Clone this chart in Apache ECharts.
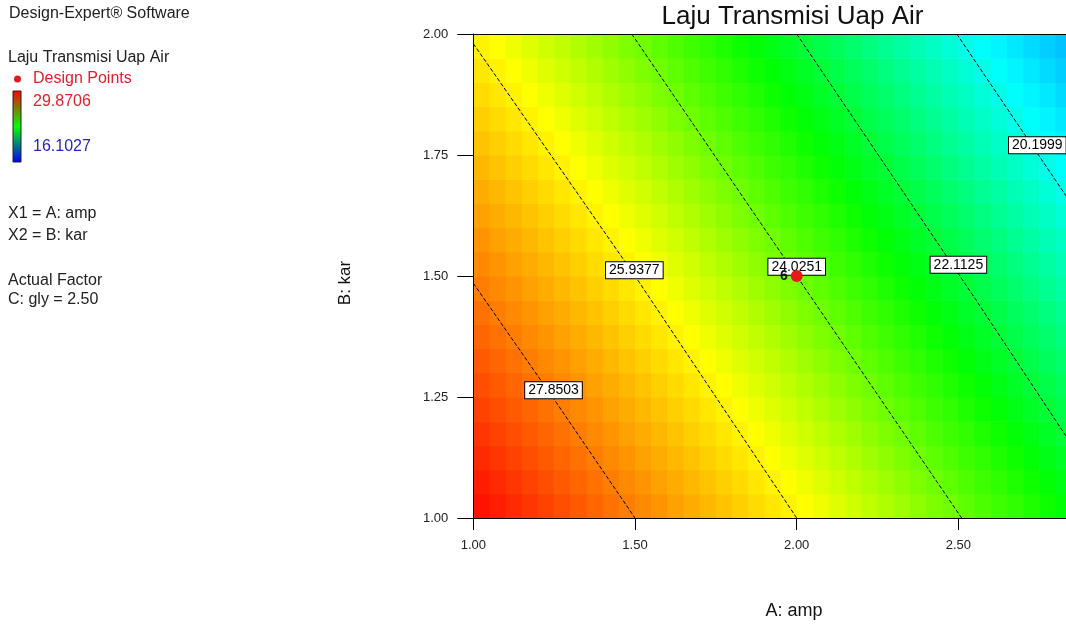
<!DOCTYPE html>
<html>
<head>
<meta charset="utf-8">
<script src="https://cdn.jsdelivr.net/npm/echarts@6/dist/echarts.min.js"></script>
<style>
html,body{margin:0;padding:0;background:#fff;}
#c{width:1066px;height:626px;}
</style>
</head>
<body>
<div id="c"></div>
<script>
// ---------- data ----------
// cell centres (A: amp, B: kar)
const aCenters = [1.025,1.075,1.125,1.175,1.225,1.275,1.325,1.375,1.425,1.475,1.525,1.575,1.625,1.675,1.725,1.775,1.825,1.875,1.925,1.975,
                  2.025,2.075,2.125,2.175,2.225,2.275,2.325,2.375,2.425,2.475,2.525,2.575,2.625,2.675,2.725,2.775,2.825,2.875,2.925,2.975];
const bCenters = [1.025,1.075,1.125,1.175,1.225,1.275,1.325,1.375,1.425,1.475,1.525,1.575,1.625,1.675,1.725,1.775,1.825,1.875,1.925,1.975];

// estimated response (Laju Transmisi Uap Air), one array per B row, columns follow aCenters
const r00 = [29.57,29.38,29.19,29.00,28.80,28.61,28.42,28.23,28.04,27.85,27.66,27.47,27.27,27.08,26.89,26.70,26.51,26.32,26.13,25.94,25.74,25.55,25.36,25.17,24.98,24.79,24.60,24.41,24.21,24.03,23.83,23.64,23.45,23.26,23.07,22.88,22.68,22.49,22.30,22.11];
const r01 = [29.38,29.19,29.00,28.80,28.61,28.42,28.23,28.04,27.85,27.66,27.47,27.27,27.08,26.89,26.70,26.51,26.32,26.13,25.94,25.74,25.55,25.36,25.17,24.98,24.79,24.60,24.41,24.21,24.03,23.83,23.64,23.45,23.26,23.07,22.88,22.68,22.49,22.30,22.11,21.92];
const r02 = [29.19,29.00,28.80,28.61,28.42,28.23,28.04,27.85,27.66,27.47,27.27,27.08,26.89,26.70,26.51,26.32,26.13,25.94,25.74,25.55,25.36,25.17,24.98,24.79,24.60,24.41,24.21,24.03,23.83,23.64,23.45,23.26,23.07,22.88,22.68,22.49,22.30,22.11,21.92,21.73];
const r03 = [29.00,28.80,28.61,28.42,28.23,28.04,27.85,27.66,27.47,27.27,27.08,26.89,26.70,26.51,26.32,26.13,25.94,25.74,25.55,25.36,25.17,24.98,24.79,24.60,24.41,24.21,24.03,23.83,23.64,23.45,23.26,23.07,22.88,22.68,22.49,22.30,22.11,21.92,21.73,21.54];
const r04 = [28.80,28.61,28.42,28.23,28.04,27.85,27.66,27.47,27.27,27.08,26.89,26.70,26.51,26.32,26.13,25.94,25.74,25.55,25.36,25.17,24.98,24.79,24.60,24.41,24.21,24.03,23.83,23.64,23.45,23.26,23.07,22.88,22.68,22.49,22.30,22.11,21.92,21.73,21.54,21.35];
const r05 = [28.61,28.42,28.23,28.04,27.85,27.66,27.47,27.27,27.08,26.89,26.70,26.51,26.32,26.13,25.94,25.74,25.55,25.36,25.17,24.98,24.79,24.60,24.41,24.21,24.03,23.83,23.64,23.45,23.26,23.07,22.88,22.68,22.49,22.30,22.11,21.92,21.73,21.54,21.35,21.15];
const r06 = [28.42,28.23,28.04,27.85,27.66,27.47,27.27,27.08,26.89,26.70,26.51,26.32,26.13,25.94,25.74,25.55,25.36,25.17,24.98,24.79,24.60,24.41,24.21,24.03,23.83,23.64,23.45,23.26,23.07,22.88,22.68,22.49,22.30,22.11,21.92,21.73,21.54,21.35,21.15,20.96];
const r07 = [28.23,28.04,27.85,27.66,27.47,27.27,27.08,26.89,26.70,26.51,26.32,26.13,25.94,25.74,25.55,25.36,25.17,24.98,24.79,24.60,24.41,24.21,24.03,23.83,23.64,23.45,23.26,23.07,22.88,22.68,22.49,22.30,22.11,21.92,21.73,21.54,21.35,21.15,20.96,20.77];
const r08 = [28.04,27.85,27.66,27.47,27.27,27.08,26.89,26.70,26.51,26.32,26.13,25.94,25.74,25.55,25.36,25.17,24.98,24.79,24.60,24.41,24.21,24.03,23.83,23.64,23.45,23.26,23.07,22.88,22.68,22.49,22.30,22.11,21.92,21.73,21.54,21.35,21.15,20.96,20.77,20.58];
const r09 = [27.85,27.66,27.47,27.27,27.08,26.89,26.70,26.51,26.32,26.13,25.94,25.74,25.55,25.36,25.17,24.98,24.79,24.60,24.41,24.21,24.03,23.83,23.64,23.45,23.26,23.07,22.88,22.68,22.49,22.30,22.11,21.92,21.73,21.54,21.35,21.15,20.96,20.77,20.58,20.39];
const r10 = [27.66,27.47,27.27,27.08,26.89,26.70,26.51,26.32,26.13,25.94,25.74,25.55,25.36,25.17,24.98,24.79,24.60,24.41,24.21,24.03,23.83,23.64,23.45,23.26,23.07,22.88,22.68,22.49,22.30,22.11,21.92,21.73,21.54,21.35,21.15,20.96,20.77,20.58,20.39,20.20];
const r11 = [27.47,27.27,27.08,26.89,26.70,26.51,26.32,26.13,25.94,25.74,25.55,25.36,25.17,24.98,24.79,24.60,24.41,24.21,24.03,23.83,23.64,23.45,23.26,23.07,22.88,22.68,22.49,22.30,22.11,21.92,21.73,21.54,21.35,21.15,20.96,20.77,20.58,20.39,20.20,20.01];
const r12 = [27.27,27.08,26.89,26.70,26.51,26.32,26.13,25.94,25.74,25.55,25.36,25.17,24.98,24.79,24.60,24.41,24.21,24.03,23.83,23.64,23.45,23.26,23.07,22.88,22.68,22.49,22.30,22.11,21.92,21.73,21.54,21.35,21.15,20.96,20.77,20.58,20.39,20.20,20.01,19.82];
const r13 = [27.08,26.89,26.70,26.51,26.32,26.13,25.94,25.74,25.55,25.36,25.17,24.98,24.79,24.60,24.41,24.21,24.03,23.83,23.64,23.45,23.26,23.07,22.88,22.68,22.49,22.30,22.11,21.92,21.73,21.54,21.35,21.15,20.96,20.77,20.58,20.39,20.20,20.01,19.82,19.62];
const r14 = [26.89,26.70,26.51,26.32,26.13,25.94,25.74,25.55,25.36,25.17,24.98,24.79,24.60,24.41,24.21,24.03,23.83,23.64,23.45,23.26,23.07,22.88,22.68,22.49,22.30,22.11,21.92,21.73,21.54,21.35,21.15,20.96,20.77,20.58,20.39,20.20,20.01,19.82,19.62,19.43];
const r15 = [26.70,26.51,26.32,26.13,25.94,25.74,25.55,25.36,25.17,24.98,24.79,24.60,24.41,24.21,24.03,23.83,23.64,23.45,23.26,23.07,22.88,22.68,22.49,22.30,22.11,21.92,21.73,21.54,21.35,21.15,20.96,20.77,20.58,20.39,20.20,20.01,19.82,19.62,19.43,19.24];
const r16 = [26.51,26.32,26.13,25.94,25.74,25.55,25.36,25.17,24.98,24.79,24.60,24.41,24.21,24.03,23.83,23.64,23.45,23.26,23.07,22.88,22.68,22.49,22.30,22.11,21.92,21.73,21.54,21.35,21.15,20.96,20.77,20.58,20.39,20.20,20.01,19.82,19.62,19.43,19.24,19.05];
const r17 = [26.32,26.13,25.94,25.74,25.55,25.36,25.17,24.98,24.79,24.60,24.41,24.21,24.03,23.83,23.64,23.45,23.26,23.07,22.88,22.68,22.49,22.30,22.11,21.92,21.73,21.54,21.35,21.15,20.96,20.77,20.58,20.39,20.20,20.01,19.82,19.62,19.43,19.24,19.05,18.86];
const r18 = [26.13,25.94,25.74,25.55,25.36,25.17,24.98,24.79,24.60,24.41,24.21,24.03,23.83,23.64,23.45,23.26,23.07,22.88,22.68,22.49,22.30,22.11,21.92,21.73,21.54,21.35,21.15,20.96,20.77,20.58,20.39,20.20,20.01,19.82,19.62,19.43,19.24,19.05,18.86,18.67];
const r19 = [25.94,25.74,25.55,25.36,25.17,24.98,24.79,24.60,24.41,24.21,24.03,23.83,23.64,23.45,23.26,23.07,22.88,22.68,22.49,22.30,22.11,21.92,21.73,21.54,21.35,21.15,20.96,20.77,20.58,20.39,20.20,20.01,19.82,19.62,19.43,19.24,19.05,18.86,18.67,18.48];
const cellRows = [r00,r01,r02,r03,r04,r05,r06,r07,r08,r09,r10,r11,r12,r13,r14,r15,r16,r17,r18,r19];

const colorRange = [16.1027, 29.8706];

const xRange = [1, 3, 0.5];
const yRange = [1, 2, 0.25];

// contour lines (A, B)
const contourLevels = ['27.8503','25.9377','24.0251','22.1125','20.1999'];
const contour1 = [[1.0,1.485],[1.25,1.245],[1.5,1.0]];
const contour2 = [[1.0,1.98],[1.5,1.5],[1.55,1.45],[2.0,1.0]];
const contour3 = [[1.49,2.0],[2.0,1.5],[2.51,1.0]];
const contour4 = [[2.0,2.0],[2.555,1.45],[3.0,1.0]];
const contour5 = [[2.495,2.0],[2.778,1.72],[3.5,1.0]];
const contourLines = [contour1,contour2,contour3,contour4,contour5];
const contourLabelPos = [[1.248,1.264],[1.498,1.512],[2.0,1.519],[2.5,1.523],[2.744,1.77]];

const designPoints = [[2.0,1.5]];
const designCounts = ['6'];

const leftTexts = ['Design-Expert\u00ae Software','Laju Transmisi Uap Air','Design Points','X1 = A: amp','X2 = B: kar','Actual Factor','C: gly = 2.50'];
const titleText = 'Laju Transmisi Uap Air';
const xName = 'A: amp';
const yName = 'B: kar';

// ---------- chart ----------
const FONT = 'Arial, "Liberation Sans", sans-serif';
const chart = echarts.init(document.getElementById('c'), null, {renderer:'canvas', width:1066, height:626});

// colour ramp (blue - cyan - green - yellow - red), as in the reference
const rampStops = [[0,[0,0,255]],[0.28,[0,255,255]],[0.48,[0,255,0]],[0.70,[255,255,0]],[1,[255,0,0]]];
function rampAt(t){
  for(let k=1;k<rampStops.length;k++){
    if(t<=rampStops[k][0]){
      const [t0,c0]=rampStops[k-1],[t1,c1]=rampStops[k];
      const u=(t-t0)/(t1-t0);
      return 'rgb('+c0.map((c,i)=>Math.round(c+(c1[i]-c)*u)).join(',')+')';
    }
  }
  return 'rgb(255,0,0)';
}
const rampColors = [];
for(let k=0;k<=60;k++) rampColors.push(rampAt(k/60));

const dA = aCenters[1]-aCenters[0];
const dB = bCenters[1]-bCenters[0];
const cellData = [];
bCenters.forEach((b,j)=>aCenters.forEach((a,i)=>cellData.push([a,b,cellRows[j][i]])));

function renderCell(params, api){
  const a = api.value(0), b = api.value(1);
  const p0 = api.coord([a-dA/2, b+dB/2]);
  const p1 = api.coord([a+dA/2, b-dB/2]);
  return {
    type:'rect',
    shape:{x:p0[0], y:p0[1], width:p1[0]-p0[0]+0.6, height:p1[1]-p0[1]+0.6},
    style:{fill:api.visual('color')}
  };
}

const contourSeries = contourLines.map(pts=>({
  type:'line', data:pts, showSymbol:false, symbol:'none', z:3, silent:true,
  lineStyle:{color:'#000', width:1, type:[4,2]}
}));

const txt = (x,y,text,size,color,extra)=>Object.assign({
  type:'text', x:x, y:y, z:100,
  style:{text:text, font:size+'px '+FONT, fill:color, align:'left', verticalAlign:'middle'}
}, extra||{});

const option = {
  animation:false,
  backgroundColor:'#fff',
  grid:{left:473.3, top:34, width:646.8, height:484, containLabel:false, outerBoundsMode:'none'},
  xAxis:[{
    type:'value', min:xRange[0], max:xRange[1], interval:xRange[2], position:'bottom', z:10,
    axisLine:{show:true, onZero:false, lineStyle:{color:'#000', width:1}},
    axisTick:{show:true, length:12, lineStyle:{color:'#000'}},
    axisLabel:{margin:21, fontSize:13, color:'#222', fontFamily:FONT, formatter:v=>v.toFixed(2)},
    splitLine:{show:false}
  },{
    type:'value', min:xRange[0], max:xRange[1], position:'top', z:10,
    axisLine:{show:true, onZero:false, lineStyle:{color:'#000', width:1}},
    axisTick:{show:false}, axisLabel:{show:false}, splitLine:{show:false}
  }],
  yAxis:[{
    type:'value', min:yRange[0], max:yRange[1], interval:yRange[2], z:10,
    axisLine:{show:true, onZero:false, lineStyle:{color:'#000', width:1}},
    axisTick:{show:true, length:16, lineStyle:{color:'#000'}},
    axisLabel:{margin:25, fontSize:13, color:'#222', fontFamily:FONT, formatter:v=>v.toFixed(2)},
    splitLine:{show:false}
  }],
  visualMap:{
    show:false, type:'continuous', min:colorRange[0], max:colorRange[1], dimension:2, seriesIndex:0,
    inRange:{color:rampColors}
  },
  series:[
    {type:'custom', renderItem:renderCell, data:cellData, encode:{x:0,y:1}, z:1, silent:true},
    ...contourSeries,
    {
      type:'scatter', data:contourLabelPos, symbol:'rect', symbolSize:1, z:5, silent:true,
      itemStyle:{color:'transparent', opacity:1},
      label:{show:true, position:'inside', formatter:p=>contourLevels[p.dataIndex],
        fontFamily:FONT, fontSize:14, lineHeight:14, color:'#000', opacity:1,
        backgroundColor:'#ffffff', borderColor:'#000', borderWidth:1, padding:[1,3,1,3]}
    },
    {
      type:'scatter', data:designPoints, symbol:'circle', symbolSize:12, z:6, silent:true,
      itemStyle:{color:'#e51b1b', opacity:1},
      label:{show:true, position:'left', distance:3, formatter:p=>designCounts[p.dataIndex],
        fontFamily:FONT, fontSize:14, fontWeight:'bold', color:'#111'}
    }
  ],
  graphic:[
    txt(9,13.5,leftTexts[0],16,'#222'),
    txt(8,58,leftTexts[1],16,'#222'),
    {type:'circle', shape:{cx:17.5, cy:79, r:3.5}, style:{fill:'#d81e22'}, z:100},
    txt(33,79,leftTexts[2],16,'#e0202c'),
    {type:'rect', shape:{x:13, y:91, width:8, height:71}, z:100,
      style:{fill:new echarts.graphic.LinearGradient(0,0,0,1,[
        {offset:0,color:'#ff0000'},{offset:0.5,color:'#00ff00'},{offset:1,color:'#0000ff'}]),
        stroke:'#222', lineWidth:1}},
    txt(33,101.5,colorRange[1].toFixed(4),16,'#e0202c'),
    txt(33,147,colorRange[0].toFixed(4),16,'#2424c8'),
    txt(8,213.5,leftTexts[3],16,'#222'),
    txt(8,236,leftTexts[4],16,'#222'),
    txt(8,280.5,leftTexts[5],16,'#222'),
    txt(8,299.5,leftTexts[6],16,'#222'),
    txt(792.5,17,titleText,26,'#111',{style:{text:titleText, font:'26px '+FONT, fill:'#111', align:'center', verticalAlign:'middle'}}),
    txt(794,611,xName,18,'#111',{style:{text:xName, font:'18px '+FONT, fill:'#111', align:'center', verticalAlign:'middle'}}),
    txt(345,283,yName,17,'#111',{rotation:Math.PI/2, style:{text:yName, font:'17px '+FONT, fill:'#111', align:'center', verticalAlign:'middle'}})
  ]
};
chart.setOption(option);
</script>
</body>
</html>
